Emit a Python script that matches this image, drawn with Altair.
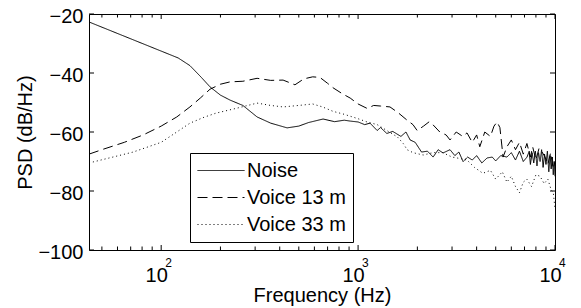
import altair as alt
import pandas as pd

series_names = ["Noise", "Voice 13 m", "Voice 33 m"]

noise_f = [43, 122, 140, 160, 177, 200, 224, 260, 307, 360, 436, 500, 560, 664, 760, 850, 912,
           1000, 1080, 1150, 1250, 1300, 1400, 1500, 1650, 1750, 1838, 1950, 2100, 2250, 2405,
           2550, 2700, 2930, 3100, 3250, 3414, 3600, 3800, 4000, 4250, 4520, 4800, 5000, 5300,
           5700, 6000, 6300, 6600, 6900, 7210, 7400, 7500, 7650, 7800, 7950, 8100, 8250, 8400,
           8550, 8700, 8850, 9000, 9150, 9300, 9450, 9560, 9700, 9800, 9900, 10000]
noise_db = [-22.7, -34.9, -37.5, -41.5, -44.7, -47.5, -49.2, -51.0, -54.9, -57.0, -58.6, -58.0,
            -56.8, -55.6, -56.5, -56.0, -56.3, -56.6, -57.5, -57.0, -59.5, -58.5, -60.5, -59.8,
            -61.5, -60.0, -62.7, -63.5, -66.8, -66.5, -68.5, -66.0, -67.1, -66.0, -68.0, -66.8,
            -70.0, -68.5, -69.5, -68.0, -70.5, -68.8, -68.5, -69.8, -68.0, -68.5, -67.0, -69.5,
            -66.5, -70.0, -68.5, -66.5, -71.0, -67.0, -70.5, -66.5, -71.5, -67.0, -70.0, -66.0,
            -72.0, -67.5, -71.0, -66.5, -73.5, -68.0, -72.5, -68.5, -74.5, -70.0, -75.0]

v13_f = [43, 51, 65, 81, 100, 120, 140, 158, 177, 200, 224, 260, 307, 360, 416, 478, 530, 588,
         640, 700, 746, 830, 912, 1000, 1111, 1200, 1300, 1452, 1600, 1774, 1900, 1995, 2150,
         2300, 2405, 2600, 2800, 2930, 3150, 3400, 3573, 3800, 4000, 4150, 4400, 4700, 4900,
         5080, 5250, 5450, 5700, 6000, 6300, 6600, 6900, 7200, 7500, 7700, 8000, 8300, 8600,
         8900, 9200, 9500, 9800, 10000]
v13_db = [-67.5, -65.8, -63.5, -61.0, -58.0, -54.9, -51.5, -48.5, -45.5, -43.8, -43.0, -42.8,
          -41.8, -42.5, -42.4, -44.0, -42.0, -41.3, -41.5, -43.5, -45.0, -47.0, -48.5, -50.5,
          -52.0, -51.0, -51.2, -51.5, -53.5, -56.0, -57.5, -59.5, -58.0, -56.5, -57.6, -60.0,
          -61.0, -62.7, -60.0, -61.5, -60.3, -63.5, -61.0, -65.0, -60.0, -61.5, -58.0, -56.6,
          -58.5, -68.5, -65.0, -62.7, -66.0, -63.5, -67.5, -63.9, -68.5, -65.0, -69.5, -65.5,
          -66.8, -68.5, -71.0, -67.0, -72.5, -70.0]

v33_f = [43, 72, 100, 120, 140, 165, 190, 240, 307, 360, 416, 500, 588, 660, 746, 850, 1000,
         1111, 1250, 1400, 1585, 1700, 1774, 1900, 2140, 2400, 2690, 3000, 3300, 3573, 3900,
         4300, 4700, 5000, 5400, 5700, 6000, 6300, 6600, 6900, 7200, 7600, 8000, 8400, 8800,
         9200, 9560, 9800, 10000]
v33_db = [-70.5, -66.8, -63.5, -60.0, -57.0, -55.0, -53.6, -52.0, -50.2, -51.0, -51.5, -51.0,
          -50.5, -51.5, -53.0, -54.0, -55.5, -56.6, -57.5, -59.5, -61.7, -64.0, -66.0, -67.0,
          -67.8, -67.0, -67.0, -68.5, -69.0, -69.5, -72.0, -74.0, -73.0, -76.0, -73.5, -77.0,
          -75.0, -78.5, -80.6, -77.0, -76.0, -78.5, -74.5, -75.0, -77.5, -76.0, -79.6, -80.5,
          -86.0]

x_major = [100, 1000, 10000]
x_exponents = ["2", "3", "4"]
x_minor = [50, 60, 70, 80, 90, 200, 300, 400, 500, 600, 700, 800, 900,
           2000, 3000, 4000, 5000, 6000, 7000, 8000, 9000]
y_ticks = [-100, -80, -60, -40, -20]

W, H = 466, 236
FONT = "Liberation Sans"

rows = []
for name, fs, dbs in zip(series_names, [noise_f, v13_f, v33_f], [noise_db, v13_db, v33_db]):
    for i, (f, d) in enumerate(zip(fs, dbs)):
        rows.append({"series": name, "freq": f, "psd": d, "idx": i})
df = pd.DataFrame(rows)

xscale = alt.Scale(type="log", domain=[43, 10000], nice=False)
yscale = alt.Scale(domain=[-100, -20], nice=False)

x_axis = alt.Axis(
    values=x_major, labelExpr="'10'", ticks=False, tickSize=0, domain=False, grid=False,
    labelFontSize=20, labelOffset=-5, labelPadding=15, labelFlush=False,
    title="Frequency (Hz)", titleFontSize=20, titleFontWeight="normal", titlePadding=0,
    labelColor="black", titleColor="black", labelFont=FONT, titleFont=FONT)
y_axis = alt.Axis(
    values=y_ticks, ticks=False, tickSize=0, domain=False, grid=False,
    labelFontSize=20, labelPadding=6, labelOffset=2,
    title="PSD (dB/Hz)", titleFontSize=20, titleFontWeight="normal", titlePadding=2,
    labelColor="black", titleColor="black", labelFont=FONT, titleFont=FONT)

xs = alt.X("freq:Q", scale=xscale, axis=x_axis)
ys = alt.Y("psd:Q", scale=yscale, axis=y_axis)

lines = alt.Chart(df).mark_line(strokeWidth=1, clip=True, color="black").encode(
    x=xs,
    y=ys,
    strokeDash=alt.StrokeDash("series:N", scale=alt.Scale(
        domain=series_names, range=[[1, 0], [10, 5], [1, 3]]),
        legend=alt.Legend(title=None, orient="none", legendX=101, legendY=139,
                          padding=7, strokeColor="black", fillColor="white", cornerRadius=0,
                          labelFontSize=20, labelFont=FONT, labelColor="black",
                          symbolType="M-1,0H3.7", symbolSize=400, symbolStrokeWidth=1,
                          symbolStrokeColor="black", symbolFillColor="transparent",
                          rowPadding=6, labelOffset=29)),
    order="idx:Q",
    detail="series:N",
)

minor_df = pd.DataFrame({"freq": x_minor})
major_df = pd.DataFrame({"freq": x_major, "exp": x_exponents})
ytick_df = pd.DataFrame({"psd": y_ticks})

minor_bot = alt.Chart(minor_df).mark_rule(color="black", strokeWidth=1).encode(
    x=xs, y=alt.value(H), y2=alt.value(H - 3.5))
minor_top = alt.Chart(minor_df).mark_rule(color="black", strokeWidth=1).encode(
    x=xs, y=alt.value(0), y2=alt.value(3.5))
major_bot = alt.Chart(major_df).mark_rule(color="black", strokeWidth=1).encode(
    x=xs, y=alt.value(H), y2=alt.value(H - 5))
major_top = alt.Chart(major_df).mark_rule(color="black", strokeWidth=1).encode(
    x=xs, y=alt.value(0), y2=alt.value(5))
exps = alt.Chart(major_df).mark_text(align="left", baseline="middle", dx=4, fontSize=12,
                                     font=FONT, color="black").encode(
    x=xs, y=alt.value(H + 12.5), text="exp:N")
yl = alt.Chart(ytick_df).mark_rule(color="black", strokeWidth=1).encode(
    y=ys, x=alt.value(0), x2=alt.value(5))
yr = alt.Chart(ytick_df).mark_rule(color="black", strokeWidth=1).encode(
    y=ys, x=alt.value(W - 5), x2=alt.value(W))

chart = alt.layer(lines, minor_bot, minor_top, major_bot, major_top, yl, yr, exps).properties(
    width=W, height=H,
    autosize=alt.AutoSizeParams(type="none"),
    padding={"left": 81, "top": 6, "right": 16, "bottom": 58},
).configure(font=FONT).configure_view(stroke="black", strokeWidth=1)

chart.save("out.html", embed_options={"renderer": "svg", "actions": False})
